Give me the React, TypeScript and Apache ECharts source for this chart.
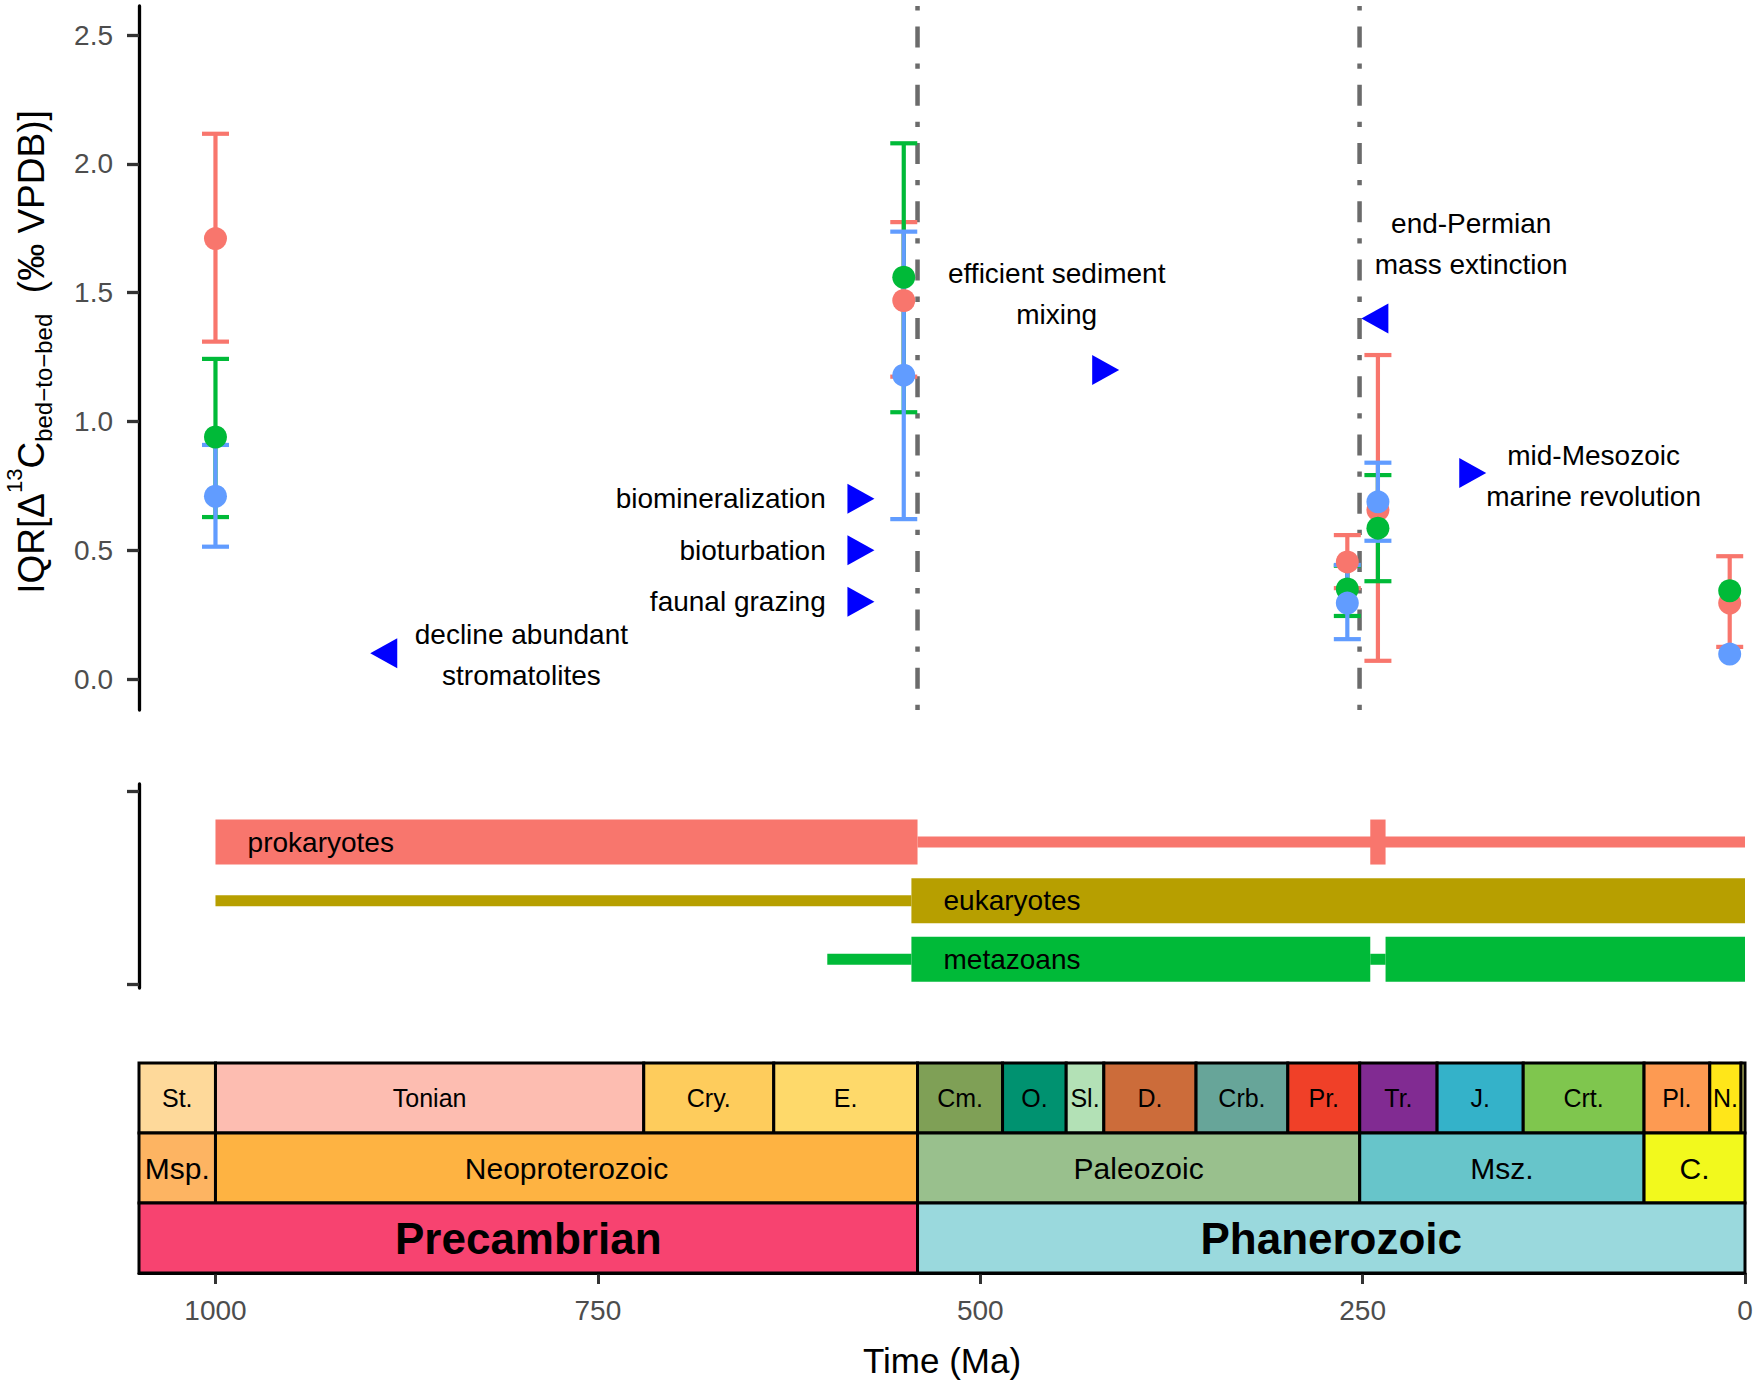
import React, { useEffect, useRef } from "react";
import * as echarts from "echarts";

const FONT = '"Liberation Sans", Arial, Helvetica, sans-serif';

// ---------- top panel: IQR per time bin ----------
const groupAges = [1000, 550, 260, 240, 10];
const redMean = [1.71, 1.47, 0.455, 0.656, 0.295];
const redLow = [1.31, 1.174, 0.353, 0.071, 0.125];
const redHigh = [2.117, 1.774, 0.559, 1.258, 0.477];
const greenMean = [0.94, 1.56, 0.35, 0.586, 0.343];
const greenLow = [0.629, 1.036, 0.245, 0.38, null];
const greenHigh = [1.243, 2.08, 0.44, 0.792, null];
const blueMean = [0.71, 1.18, 0.295, 0.688, 0.097];
const blueLow = [0.514, 0.621, 0.155, 0.537, null];
const blueHigh = [0.909, 1.737, 0.443, 0.84, null];

const yTicks = [0, 0.5, 1, 1.5, 2, 2.5];
const timeTicks = [0, 250, 500, 750, 1000];
const eventAges = [541, 252];

// annotation markers
const rightMarkers = [
  [578, 0.7],
  [578, 0.5],
  [578, 0.3],
  [418, 1.2],
  [178, 0.8],
];
const leftMarkers = [
  [890, 0.1],
  [242, 1.4],
];
const noteTexts = [
  "decline abundant\nstromatolites",
  "biomineralization",
  "bioturbation",
  "faunal grazing",
  "efficient sediment\nmixing",
  "end-Permian\nmass extinction",
  "mid-Mesozoic\nmarine revolution",
];
const noteAges = [800, 601, 601, 601, 450, 179, 99];
const noteValues = [0.093, 0.7, 0.5, 0.3, 1.495, 1.69, 0.79];
const noteAnchors = ["center", "right", "right", "right", "center", "center", "center"];

// ---------- middle panel: taxon ranges ----------
const taxonNames = ["metazoans", "eukaryotes", "prokaryotes"]; // rows 1..3
const taxonLabelAges = [524, 524, 979];
// [row, start Ma, end Ma, thick(1)/thin(0)]
const rangeSegments = [
  [3, 541, 0, 0],
  [3, 1000, 541, 1],
  [3, 245, 235, 1],
  [2, 1000, 545, 0],
  [2, 545, 0, 1],
  [1, 600, 545, 0],
  [1, 245, 235, 0],
  [1, 545, 245, 1],
  [1, 235, 0, 1],
];
const taxonAxisTicks = [0.57, 3.87];

// ---------- bottom panel: geologic time scale ----------
const periodNames = ["St.", "Tonian", "Cry.", "E.", "Cm.", "O.", "Sl.", "D.", "Crb.", "Pr.", "Tr.", "J.", "Crt.", "Pl.", "N.", ""];
const periodBounds = [1200, 1000, 720, 635, 541, 485.4, 443.8, 419.2, 358.9, 298.9, 251.9, 201.3, 145, 66, 23.03, 2.58, 0];
const periodColors = ["#FED99A", "#FDBDB1", "#FECC5C", "#FED96A", "#7FA056", "#009270", "#B3E1B6", "#CC6C3A", "#67A599", "#F04028", "#812B92", "#34B2C9", "#7FC64E", "#FD9A52", "#FFE619", "#F9F97F"];
const eraNames = ["Msp.", "Neoproterozoic", "Paleozoic", "Msz.", "C."];
const eraBounds = [1600, 1000, 541, 251.9, 66, 0];
const eraColors = ["#FDB462", "#FEB342", "#99C08D", "#67C5CA", "#F2F91D"];
const eonNames = ["Precambrian", "Phanerozoic"];
const eonBounds = [4600, 541, 0];
const eonColors = ["#F74370", "#9AD9DD"];

const RED = "#F8766D";
const GREEN = "#00BA38";
const BLUE = "#619CFF";
const TAXON_COLORS = [null, "#00BA38", "#B79F00", "#F8766D"];

function errorBarSeries(color: string, low: (number | null)[], high: (number | null)[]) {
  return {
    type: "custom",
    xAxisIndex: 0,
    yAxisIndex: 0,
    silent: true,
    data: groupAges.map((a, i) => [a, low[i], high[i]]).filter((d) => d[1] != null),
    renderItem: (params: any, api: any) => {
      const x = api.value(0);
      const pLo = api.coord([x, api.value(1)]);
      const pHi = api.coord([x, api.value(2)]);
      const hw = 13.5;
      const st = { stroke: color, lineWidth: 4.2 };
      return {
        type: "group",
        children: [
          { type: "line", shape: { x1: pLo[0], y1: pLo[1], x2: pHi[0], y2: pHi[1] }, style: st },
          { type: "line", shape: { x1: pLo[0] - hw, y1: pLo[1], x2: pLo[0] + hw, y2: pLo[1] }, style: st },
          { type: "line", shape: { x1: pHi[0] - hw, y1: pHi[1], x2: pHi[0] + hw, y2: pHi[1] }, style: st },
        ],
      };
    },
  };
}

function pointSeries(color: string, mean: number[]) {
  return {
    type: "scatter",
    xAxisIndex: 0,
    yAxisIndex: 0,
    silent: true,
    symbol: "circle",
    symbolSize: 23,
    itemStyle: { color, opacity: 1 },
    data: groupAges.map((a, i) => [a, mean[i]]),
  };
}

function buildScale() {
  const items: any[] = [];
  const add = (names: string[], bounds: number[], colors: string[], row: number) => {
    names.forEach((n, i) => items.push({ value: [bounds[i], bounds[i + 1], row], label: n, color: colors[i], row }));
  };
  add(periodNames, periodBounds, periodColors, 2);
  add(eraNames, eraBounds, eraColors, 1);
  add(eonNames, eonBounds, eonColors, 0);
  return items;
}

export default function App() {
  const ref = useRef<HTMLDivElement>(null);

  useEffect(() => {
    if (!ref.current) return;
    const chart = echarts.init(ref.current, null, { renderer: "svg" });
    const scaleItems = buildScale();

    const option: any = {
      animation: false,
      backgroundColor: "#ffffff",
      textStyle: { fontFamily: FONT },
      grid: [
        { left: 139, width: 1606, top: 6, height: 704 },
        { left: 139, width: 1606, top: 784, height: 204 },
        { left: 139, width: 1606, top: 1063, height: 210 },
      ],
      xAxis: [
        { type: "value", gridIndex: 0, min: 0, max: 1050, inverse: true, show: false },
        { type: "value", gridIndex: 1, min: 0, max: 1050, inverse: true, show: false },
        {
          type: "value",
          gridIndex: 2,
          min: 0,
          max: 1050,
          inverse: true,
          splitLine: { show: false },
          axisLine: { show: true, onZero: false, lineStyle: { color: "#000", width: 3 } },
          axisTick: { show: true, customValues: timeTicks, length: 11, lineStyle: { color: "#333", width: 3 } },
          axisLabel: {
            customValues: timeTicks,
            color: "#4D4D4D",
            fontSize: 28,
            fontFamily: FONT,
            margin: 23,
            formatter: (v: number) => String(v),
          },
          name: "Time (Ma)",
          nameLocation: "middle",
          nameGap: 70,
          nameTextStyle: { color: "#000", fontSize: 35, fontFamily: FONT },
        },
      ],
      yAxis: [
        {
          type: "value",
          gridIndex: 0,
          min: -0.12,
          max: 2.613,
          splitLine: { show: false },
          axisLine: { show: true, onZero: false, lineStyle: { color: "#000", width: 3.3 } },
          axisTick: { show: true, customValues: yTicks, length: 12, lineStyle: { color: "#333", width: 3.3 } },
          axisLabel: {
            customValues: yTicks,
            color: "#4D4D4D",
            fontSize: 28,
            fontFamily: FONT,
            margin: 26,
            formatter: (v: number) => v.toFixed(1),
          },
        },
        {
          type: "value",
          gridIndex: 1,
          min: 0.51,
          max: 3.99,
          splitLine: { show: false },
          axisLine: { show: true, onZero: false, lineStyle: { color: "#000", width: 3.3 } },
          axisTick: { show: true, customValues: taxonAxisTicks, length: 12, lineStyle: { color: "#333", width: 3.3 } },
          axisLabel: { show: false },
        },
        { type: "value", gridIndex: 2, min: 0, max: 3, show: false },
      ],
      graphic: [
        {
          type: "text",
          x: 31,
          y: 352,
          rotation: Math.PI / 2,
          style: {
            text: "{m|IQR[Δ}{sup|13}{m|C}{sub|bed−to−bed}{m|  (‰ VPDB)]}",
            align: "center",
            verticalAlign: "middle",
            fill: "#000",
            rich: {
              m: { fontSize: 37, fontFamily: FONT, lineHeight: 44, verticalAlign: "middle", fill: "#000" },
              sup: { fontSize: 22, fontFamily: FONT, lineHeight: 22, padding: [0, 0, 34, 0], verticalAlign: "middle", fill: "#000" },
              sub: { fontSize: 24, fontFamily: FONT, lineHeight: 22, padding: [24, 0, 0, 0], verticalAlign: "middle", fill: "#000" },
            },
          },
        },
      ],
      series: [
        // event lines
        {
          type: "custom",
          xAxisIndex: 0,
          yAxisIndex: 0,
          silent: true,
          data: eventAges.map((a) => [a, 0]),
          renderItem: (params: any, api: any) => {
            const cs = params.coordSys;
            const x = api.coord([api.value(0), 0])[0];
            return {
              type: "line",
              shape: { x1: x, y1: cs.y + cs.height, x2: x, y2: cs.y },
              style: { stroke: "#6b6b6b", lineWidth: 4.5, lineDash: [5.3, 16, 21, 16] },
            };
          },
        },
        errorBarSeries(RED, redLow, redHigh),
        errorBarSeries(GREEN, greenLow, greenHigh),
        errorBarSeries(BLUE, blueLow, blueHigh),
        pointSeries(RED, redMean),
        pointSeries(GREEN, greenMean),
        pointSeries(BLUE, blueMean),
        // markers
        {
          type: "scatter",
          xAxisIndex: 0,
          yAxisIndex: 0,
          silent: true,
          symbol: "path://M0,0L10,5L0,10Z",
          symbolKeepAspect: false,
          symbolSize: [27, 30],
          itemStyle: { color: "#0000FF", opacity: 1 },
          data: rightMarkers,
        },
        {
          type: "scatter",
          xAxisIndex: 0,
          yAxisIndex: 0,
          silent: true,
          symbol: "path://M10,0L0,5L10,10Z",
          symbolKeepAspect: false,
          symbolSize: [27, 30],
          itemStyle: { color: "#0000FF", opacity: 1 },
          data: leftMarkers,
        },
        // notes
        {
          type: "custom",
          xAxisIndex: 0,
          yAxisIndex: 0,
          silent: true,
          data: noteAges.map((a, i) => [a, noteValues[i]]),
          renderItem: (params: any, api: any) => {
            const p = api.coord([api.value(0), api.value(1)]);
            const i = params.dataIndex;
            return {
              type: "text",
              x: p[0],
              y: p[1],
              style: {
                text: noteTexts[i],
                align: noteAnchors[i],
                verticalAlign: "middle",
                fill: "#000",
                fontSize: 28,
                fontFamily: FONT,
                lineHeight: 41,
              },
            };
          },
        },
        // taxon ranges
        {
          type: "custom",
          xAxisIndex: 1,
          yAxisIndex: 1,
          silent: true,
          data: rangeSegments,
          renderItem: (params: any, api: any) => {
            const row = api.value(0);
            const p1 = api.coord([api.value(1), row]);
            const p2 = api.coord([api.value(2), row]);
            const h = api.value(3) ? 45 : 11;
            return {
              type: "rect",
              shape: { x: Math.min(p1[0], p2[0]), y: p1[1] - h / 2, width: Math.abs(p2[0] - p1[0]), height: h },
              style: { fill: TAXON_COLORS[row] },
            };
          },
        },
        {
          type: "custom",
          xAxisIndex: 1,
          yAxisIndex: 1,
          silent: true,
          data: taxonLabelAges.map((a, i) => [a, i + 1]),
          renderItem: (params: any, api: any) => {
            const p = api.coord([api.value(0), api.value(1)]);
            return {
              type: "text",
              x: p[0],
              y: p[1],
              style: {
                text: taxonNames[params.dataIndex],
                align: "left",
                verticalAlign: "middle",
                fill: "#000",
                fontSize: 28,
                fontFamily: FONT,
              },
            };
          },
        },
        // time scale
        {
          type: "custom",
          xAxisIndex: 2,
          yAxisIndex: 2,
          silent: true,
          data: scaleItems.map((d) => d.value),
          renderItem: (params: any, api: any) => {
            const cs = params.coordSys;
            const item = scaleItems[params.dataIndex];
            const row = api.value(2);
            const p1 = api.coord([api.value(0), row + 1]);
            const p2 = api.coord([api.value(1), row]);
            const x1 = Math.max(p1[0], cs.x);
            const x2 = Math.min(p2[0], cs.x + cs.width);
            const fontSize = row === 2 ? 25 : row === 1 ? 30 : 44;
            return {
              type: "group",
              children: [
                {
                  type: "rect",
                  shape: { x: x1, y: p1[1], width: x2 - x1, height: p2[1] - p1[1] },
                  style: { fill: item.color, stroke: "#000", lineWidth: 3 },
                },
                {
                  type: "text",
                  x: (x1 + x2) / 2,
                  y: (p1[1] + p2[1]) / 2,
                  style: {
                    text: item.label,
                    align: "center",
                    verticalAlign: "middle",
                    fill: "#000",
                    fontSize,
                    fontWeight: row === 0 ? "bold" : "normal",
                    fontFamily: FONT,
                  },
                },
              ],
            };
          },
        },
      ],
    };

    chart.setOption(option);
    return () => chart.dispose();
  }, []);

  return (
    <div
      ref={ref}
      style={{ position: "absolute", left: 0, top: 0, width: 1756, height: 1384, background: "#fff" }}
    />
  );
}
